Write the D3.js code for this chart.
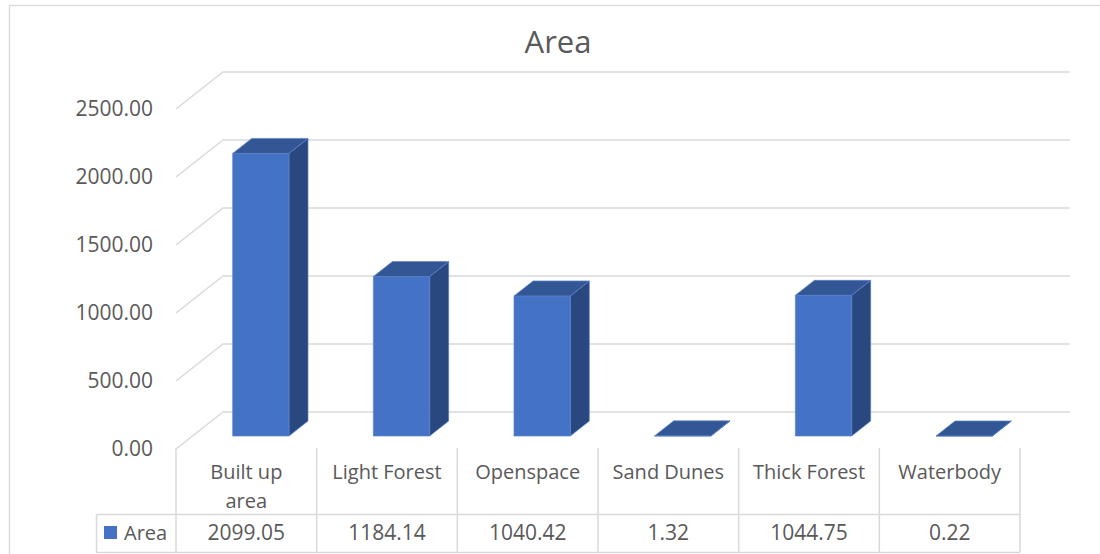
<!DOCTYPE html>
<html>
<head>
<meta charset="utf-8">
<script src="https://cdn.jsdelivr.net/npm/d3@7"></script>
<style>
  html, body { margin: 0; padding: 0; background: #fff; }
  svg { display: block; font-family: "Open Sans", "Noto Sans", sans-serif; }
</style>
</head>
<body>
<svg id="chart" width="1100" height="554"></svg>
<script>
// Land cover areas
const categories = ["Built up area", "Light Forest", "Openspace", "Sand Dunes", "Thick Forest", "Waterbody"];
const areaValues = [2099.05, 1184.14, 1040.42, 1.32, 1044.75, 0.22];
const yTicks = [0, 500, 1000, 1500, 2000, 2500];
const seriesName = "Area";
const chartTitle = "Area";

const W = 1100, H = 554;
const textColor = "#595959";
const gridColor = "#D9D9D9";
const faceFront = "#4472C4";
const faceTop = "#335795";
const faceSide = "#2A4880";

const svg = d3.select("#chart");

// Oblique 3D projection: back wall coordinates shifted toward the viewer.
// t = 0 on the back wall, t = 1 at the front edge of the floor.
const DX = -47, DY = 37;
const proj = (x, y, t) => [x + DX * t, y + DY * t];

// Back-wall scales
const y = d3.scaleLinear().domain([0, 2500]).range([412, 72]);
const xWall = [223, 1070];
const x = d3.scaleBand().domain(categories).range([221, 1065])
  .paddingInner(0.6).paddingOuter(0.3);
const xCol = d3.scaleBand().domain(categories).range([xWall[0] + DX, xWall[1] + DX - 3]);

// Chart border
svg.append("rect").attr("x", 9.5).attr("y", 5.5).attr("width", W + 20).attr("height", H + 20)
  .attr("fill", "none").attr("stroke", gridColor).attr("stroke-width", 1.3);

// Title
svg.append("text").attr("x", 558).attr("y", 53).attr("text-anchor", "middle")
  .attr("font-size", 31).attr("fill", textColor).text(chartTitle);

// Gridlines: side wall diagonals plus back wall horizontals
const grid = svg.append("g").attr("stroke", gridColor).attr("stroke-width", 1.5).attr("fill", "none");
yTicks.forEach(v => {
  const yb = y(v);
  const f = proj(xWall[0], yb, 1);
  grid.append("path").attr("d", `M${f[0]},${f[1]}L${xWall[0]},${yb}L${xWall[1]},${yb}`);
});

// Value axis labels at the front edge of the side wall
svg.append("g").selectAll("text").data(yTicks).join("text")
  .attr("x", 153).attr("y", d => proj(xWall[0], y(d), 1)[1])
  .attr("dy", "0.35em").attr("text-anchor", "end")
  .attr("font-size", 21).attr("fill", textColor)
  .text(d3.format(".2f"));

// 3D columns
const tFront = 0.649, tBack = 0.244;
const hScale = 0.99;
const bars = svg.append("g");
const poly = pts => "M" + pts.map(p => p.join(",")).join("L") + "Z";
categories.forEach((c, i) => {
  const v = areaValues[i];
  const x0 = x(c), x1 = x(c) + x.bandwidth();
  const yTop = y(0) - (y(0) - y(v)) * hScale;
  const fBL = proj(x0, y(0), tFront), fBR = proj(x1, y(0), tFront);
  const fTL = proj(x0, yTop, tFront), fTR = proj(x1, yTop, tFront);
  const bBR = proj(x1, y(0), tBack);
  const bTL = proj(x0, yTop, tBack), bTR = proj(x1, yTop, tBack);
  const faces = [
    [[fBR, bBR, bTR, fTR], faceSide],
    [[fBL, fBR, fTR, fTL], faceFront],
    [[fTL, fTR, bTR, bTL], faceTop]
  ];
  faces.forEach(([pts, fill]) => {
    bars.append("path").attr("d", poly(pts)).attr("fill", fill)
      .attr("stroke", "#5A82CC").attr("stroke-width", 0.7).attr("stroke-linejoin", "round");
  });
});

// Data table
const tableTop = 448, rowTop = 514.5, rowBottom = 552.5, legendLeft = 96.5;
const table = svg.append("g").attr("stroke", gridColor).attr("stroke-width", 1.5).attr("fill", "none");
const colEdges = categories.map(c => xCol(c)).concat([xCol.range()[1]]);
colEdges.forEach(xe => {
  table.append("line").attr("x1", xe).attr("x2", xe).attr("y1", tableTop).attr("y2", rowBottom);
});
table.append("line").attr("x1", legendLeft).attr("x2", legendLeft).attr("y1", rowTop).attr("y2", rowBottom);
[rowTop, rowBottom].forEach(yy => {
  table.append("line").attr("x1", legendLeft).attr("x2", colEdges[colEdges.length - 1])
    .attr("y1", yy).attr("y2", yy);
});

// Category headers, wrapped to the usable column width
const wrapWidth = 114;
const header = svg.append("g").attr("font-size", 20).attr("fill", textColor).attr("text-anchor", "middle");
categories.forEach(c => {
  const cx = xCol(c) + xCol.bandwidth() / 2;
  const t = header.append("text").attr("x", cx).attr("y", 479);
  const words = c.split(" ");
  const lines = [];
  let line = [];
  const probe = header.append("text").attr("visibility", "hidden");
  words.forEach(w => {
    const trial = line.concat([w]).join(" ");
    probe.text(trial);
    if (line.length && probe.node().getComputedTextLength() > wrapWidth) {
      lines.push(line.join(" "));
      line = [w];
    } else line.push(w);
  });
  lines.push(line.join(" "));
  probe.remove();
  lines.forEach((l, k) => t.append("tspan").attr("x", cx).attr("dy", k ? 28.5 : 0).text(l));
});

// Legend key and values row
svg.append("rect").attr("x", 104).attr("y", 526).attr("width", 13).attr("height", 13).attr("fill", faceFront);
svg.append("text").attr("x", 124).attr("y", 539.5).attr("font-size", 20).attr("fill", textColor).text(seriesName);
svg.append("g").selectAll("text").data(categories).join("text")
  .attr("x", d => xCol(d) + xCol.bandwidth() / 2).attr("y", 539.5)
  .attr("text-anchor", "middle").attr("font-size", 21).attr("fill", textColor)
  .text((d, i) => d3.format(".2f")(areaValues[i]));
</script>
</body>
</html>
